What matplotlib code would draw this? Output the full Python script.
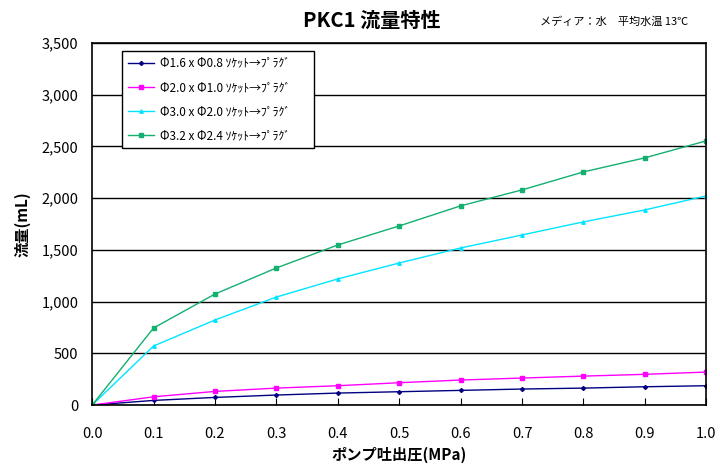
import matplotlib
matplotlib.use("Agg")
import matplotlib.pyplot as plt
from matplotlib.ticker import FuncFormatter

plt.rcParams['font.family'] = ['Noto Sans CJK JP', 'DejaVu Sans']

pressure = [0.0, 0.1, 0.2, 0.3, 0.4, 0.5, 0.6, 0.7, 0.8, 0.9, 1.0]
flow_16 = [0, 45, 74, 97, 116, 129, 142, 155, 164, 177, 187]
flow_20 = [0, 80, 132, 164, 187, 216, 242, 261, 280, 297, 319]
flow_30 = [0, 571, 822, 1044, 1219, 1373, 1518, 1644, 1770, 1886, 2021]
flow_32 = [0, 745, 1073, 1325, 1547, 1731, 1925, 2079, 2253, 2389, 2553]
labels = ["Φ1.6 x Φ0.8 ｿｹｯﾄ→ﾌﾟﾗｸﾞ", "Φ2.0 x Φ1.0 ｿｹｯﾄ→ﾌﾟﾗｸﾞ",
          "Φ3.0 x Φ2.0 ｿｹｯﾄ→ﾌﾟﾗｸﾞ", "Φ3.2 x Φ2.4 ｿｹｯﾄ→ﾌﾟﾗｸﾞ"]

fig = plt.figure(figsize=(7.2, 4.76), dpi=100)
ax = fig.add_axes([0.128, 0.149, 0.853, 0.761])

ax.plot(pressure, flow_16, color='#000080', marker='D', ms=2, lw=1, label=labels[0])
ax.plot(pressure, flow_20, color='#FF00FF', marker='s', ms=3, lw=1, label=labels[1])
ax.plot(pressure, flow_30, color='#00E5FF', marker='^', ms=2.5, lw=1, label=labels[2])
ax.plot(pressure, flow_32, color='#13B070', marker='s', ms=3.5, lw=1, label=labels[3])

ax.set_xlim(0, 1.0)
ax.set_ylim(0, 3500)
ax.set_xticks(pressure)
ax.set_xticklabels([f"{p:.1f}" for p in pressure])
ax.set_yticks(range(0, 3501, 500))
ax.yaxis.set_major_formatter(FuncFormatter(lambda v, p: f"{int(v):,}"))
ax.grid(axis='y', color='black', lw=1)
ax.tick_params(axis='x', direction='in', length=5, pad=16, labelsize=10.5)
ax.tick_params(axis='y', length=0, pad=10, labelsize=10.5)
for s in ax.spines.values():
    s.set_linewidth(1.2)

ax.set_xlabel("ポンプ吐出圧(MPa)", fontsize=11, fontweight='bold', labelpad=4)
ax.set_ylabel("流量(mL)", fontsize=11, fontweight='bold', labelpad=8)

fig.text(0.517, 0.958, "PKC1 流量特性", fontsize=14.5, fontweight='bold', ha='center', va='center')
fig.text(0.75, 0.955, "メディア：水　平均水温 13℃", fontsize=8, ha='left', va='center')

leg = ax.legend(loc='upper left', bbox_to_anchor=(0.049, 0.7, 0.313, 0.278),
                mode='expand', fontsize=8.5,
                frameon=True, fancybox=False, edgecolor='black', framealpha=1,
                handlelength=2.2, borderpad=0.5, labelspacing=0.95,
                borderaxespad=0, handletextpad=0.5)
leg.get_frame().set_linewidth(1)

fig.savefig("out.png", dpi=100)
